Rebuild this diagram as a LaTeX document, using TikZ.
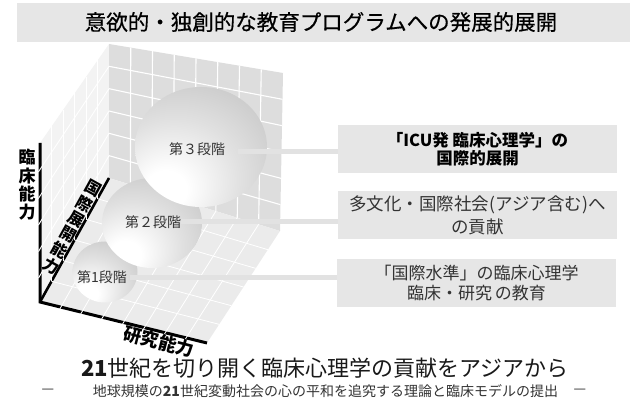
\documentclass[tikz,border=0pt]{standalone}
\usepackage{fontspec}
\setmainfont{Noto Sans CJK JP}
\newfontfamily\medfont{Noto Sans CJK JP}[BoldFont={Noto Sans CJK JP},BoldFeatures={FakeBold=0.5}]
\usetikzlibrary{calc,shapes.geometric}
\definecolor{barfill}{HTML}{E6E6E6}
\definecolor{backwall}{HTML}{DDDDDD}
\definecolor{floorc}{HTML}{EBEBEB}
\definecolor{leftwall}{HTML}{F3F3F3}
\definecolor{conn}{HTML}{E2E2E2}
\definecolor{txt}{HTML}{333333}
\pgfdeclareradialshading{sphereshade}{\pgfpoint{-15bp}{-20bp}}{color(0bp)=(white); color(8bp)=(white); color(25bp)=(black!12); color(50bp)=(black!27); color(75bp)=(black!44)}
\begin{document}
\begin{tikzpicture}[x=1pt,y=-1pt,
  gridline/.style={white,line width=1.1pt},
  floorgrid/.style={white,line width=0.8pt},
  axisline/.style={black,line width=3pt,line join=miter},
  sphere/.style={ellipse,inner sep=0pt,shade,shading=sphereshade},
  slabel/.style={inner sep=0pt,text=txt,font=\fontsize{14}{16}\selectfont},
  infobox/.style={fill=barfill,minimum width=279pt,minimum height=48pt,inner sep=0pt,align=center},
  connbar/.style={conn,line width=5pt},
  axislabel/.style={inner sep=0pt,align=center,text=black}]
\useasboundingbox (0,0) rectangle (630,403);

% title
\node[fill=barfill,minimum width=613pt,minimum height=39pt,inner sep=0pt] (titlebar) at (323.5,22.5) {};
\node[inner sep=0pt,font=\medfont\bfseries\fontsize{21.5}{24}\selectfont] (title) at (321,22) {意欲的・独創的な教育プログラムへの発展的展開};

% corners
\coordinate (O) at (40,302);
\coordinate (FT) at (40,143);
\coordinate (FR) at (207,343);
\coordinate (BL) at (109,178);
\coordinate (BR) at (280,231);
\coordinate (TR) at (283,73);
\coordinate (TL) at (109,44);

% walls
\fill[leftwall] (O) -- (FT) -- (TL) -- (BL) -- cycle;
\fill[backwall] (BL) -- (BR) -- (TR) -- (TL) -- cycle;
\fill[floorc] (O) -- (FR) -- (BR) -- (BL) -- cycle;

% axes
\draw[axisline] (FT) -- (O) -- (FR);
\draw[black,line width=2.6pt] (O) -- (BL);

% grids
\foreach \i in {1,...,7}{
  \draw[gridline] ($(BL)!\i/8!(BR)$) -- ($(TL)!\i/8!(TR)$);
  \coordinate (p) at ($(O)!\i/8!(FR)$);
  \coordinate (q) at ($(BL)!\i/8!(BR)$);
  \draw[floorgrid] ($(p)!-3pt!(q)$) -- (q);
}
\foreach \j in {1,...,5}{
  \draw[gridline] ($(BL)!\j/6!(TL)$) -- ($(BR)!\j/6!(TR)$);
  \draw[floorgrid] ($(O)!\j/6!(BL)$) -- ($(FR)!\j/6!(BR)$);
  \draw[gridline,line width=0.8pt] ($(O)!\j/6!(BL)$) -- ($(FT)!\j/6!(TL)$);
  \coordinate (p) at ($(O)!\j/6!(FT)$);
  \coordinate (q) at ($(BL)!\j/6!(TL)$);
  \draw[gridline,line width=0.9pt] ($(p)!-3pt!(q)$) -- (q);
}

% axis labels
\node[axislabel,font=\bfseries\fontsize{17}{18.3}\selectfont] (lab1) at (27,185) {臨\\床\\能\\力};
\foreach \c [count=\k from 0] in {国,際,展,開,能,力}
  \node[axislabel,rotate=-29,font=\bfseries\fontsize{16}{17}\selectfont] (lab2-\k) at ({93-8.4*\k},{188+15.6*\k}) {\c};
\node[axislabel,rotate=-14.6,font=\bfseries\fontsize{18}{20}\selectfont] (lab3) at (159,341.5) {研究能力};

% spheres
\node[sphere,minimum width=65pt,minimum height=61pt] (s1) at (105,272) {};
\node[sphere,minimum width=100pt,minimum height=90pt] (s2) at (152,223) {};
\node[sphere,minimum width=132pt,minimum height=120pt] (s3) at (201,147) {};
\node[slabel] (t1) at (102,277) {第1段階};
\node[slabel] (t2) at (153,222) {第２段階};
\node[slabel] (t3) at (197,149) {第３段階};

% boxes
\node[infobox,font=\bfseries\fontsize{16.5}{18}\selectfont] (b3) at (477.5,149) {「ICU発 臨床心理学」の\\国際的展開};
\node[infobox,text=txt,font=\fontsize{17.5}{23}\selectfont] (b2) at (477.5,215) {多文化・国際社会(アジア含む)へ\\の貢献};
\node[infobox,text=txt,font=\fontsize{17}{20}\selectfont] (b1) at (476.5,283) {「国際水準」の臨床心理学\\臨床・研究\,の教育};

% connectors
\draw[connbar] ([xshift=13pt,yshift=-3pt]t3.east) -- ([yshift=-3pt]t3.east -| b3.west);
\draw[connbar] (t2.east) -- (t2.east -| b2.west);
\draw[connbar] ([xshift=3pt,yshift=-1pt]t1.east) -- ([yshift=-1pt]t1.east -| b1.west);

% bottom text
\node[inner sep=0pt,text=black!90,font=\fontsize{22}{24}\selectfont] (main) at (325,368) {\textbf{21}世紀を切り開く臨床心理学の貢献をアジアから};
\node[inner sep=0pt,text=txt,font=\fontsize{14}{16}\selectfont] (sub) at (325.5,391) {地球規模の\textbf{21}世紀変動社会の心の平和を追究する理論と臨床モデルの提出};
\node[inner sep=0pt,text=txt,font=\fontsize{14}{16}\selectfont] (dl) at (48,391) {—};
\node[inner sep=0pt,text=txt,font=\fontsize{14}{16}\selectfont] (dr) at (580,391) {—};
\end{tikzpicture}
\end{document}
